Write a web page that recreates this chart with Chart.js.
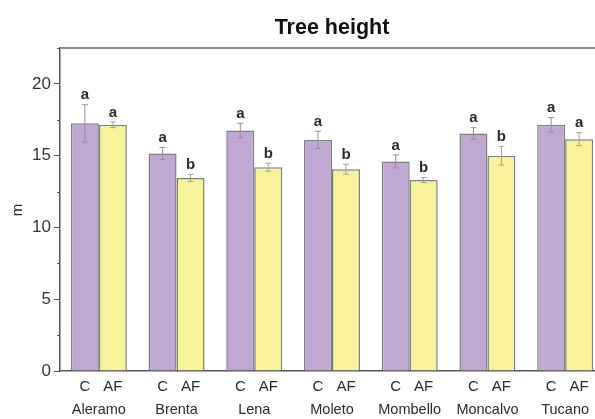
<!DOCTYPE html>
<html>
<head>
<meta charset="utf-8">
<script src="https://cdn.jsdelivr.net/npm/chart.js@4.4.1/dist/chart.umd.min.js"></script>
<style>
  html, body { margin: 0; padding: 0; background: #fff; overflow: hidden; width: 595px; height: 419px; }
  canvas { display: block; }
</style>
</head>
<body>
<canvas id="c" width="610" height="419"></canvas>
<script>
// Tree height per site, control (C) vs agroforestry (AF)
const sites = ['Aleramo', 'Brenta', 'Lena', 'Moleto', 'Mombello', 'Moncalvo', 'Tucano'];
const treatments = ['C', 'AF'];
const heightC  = [17.25, 15.15, 16.75, 16.1, 14.6, 16.55, 17.15];
const heightAF = [17.15, 13.45, 14.2, 14.05, 13.3, 15.0, 16.15];
const errC  = [1.3, 0.42, 0.5, 0.6, 0.45, 0.4, 0.5];
const errAF = [0.2, 0.25, 0.28, 0.35, 0.18, 0.65, 0.45];
const letterC  = ['a', 'a', 'a', 'a', 'a', 'a', 'a'];
const letterAF = ['a', 'b', 'b', 'b', 'b', 'b', 'a'];
const yTicks = [0, 5, 10, 15, 20];
const yMinorTicks = [2.5, 7.5, 12.5, 17.5, 22.5];

const FONT = 'Liberation Sans, Arial, sans-serif';
const errors = [errC, errAF];
const letters = [letterC, letterAF];

const decorations = {
  id: 'decorations',
  afterDatasetsDraw(chart) {
    const { ctx, chartArea, scales } = chart;
    const y = scales.y;
    ctx.save();

    // error bars and significance letters
    chart.data.datasets.forEach((ds, di) => {
      const meta = chart.getDatasetMeta(di);
      meta.data.forEach((bar, i) => {
        const v = ds.data[i];
        const e = errors[di][i];
        const yTop = y.getPixelForValue(v + e);
        const yBot = y.getPixelForValue(v - e);
        ctx.strokeStyle = di === 0 ? '#9a8aa6' : '#a5a58e';
        ctx.lineWidth = 1;
        ctx.beginPath();
        ctx.moveTo(bar.x, yTop); ctx.lineTo(bar.x, yBot);
        ctx.moveTo(bar.x - 3, yTop); ctx.lineTo(bar.x + 3, yTop);
        ctx.moveTo(bar.x - 3, yBot); ctx.lineTo(bar.x + 3, yBot);
        ctx.stroke();

        ctx.fillStyle = '#2b2b2b';
        ctx.font = 'bold 15px ' + FONT;
        ctx.textAlign = 'center';
        ctx.textBaseline = 'bottom';
        ctx.fillText(letters[di][i], bar.x, yTop - 2);

        // treatment label under each bar
        ctx.font = '15px ' + FONT;
        ctx.textBaseline = 'middle';
        ctx.fillStyle = '#2b2b2b';
        ctx.fillText(treatments[di], bar.x, chartArea.bottom + 16);
      });
    });

    // site names centred under each group
    ctx.font = '14.5px ' + FONT;
    ctx.fillStyle = '#2b2b2b';
    ctx.textAlign = 'center';
    ctx.textBaseline = 'middle';
    sites.forEach((s, i) => {
      ctx.fillText(s, scales.x.getPixelForValue(i), chartArea.bottom + 39);
    });

    // minor ticks on the y axis
    ctx.strokeStyle = '#555';
    ctx.lineWidth = 1;
    yMinorTicks.forEach(v => {
      const py = Math.round(y.getPixelForValue(v)) + 0.5;
      ctx.beginPath();
      ctx.moveTo(chartArea.left - 3, py); ctx.lineTo(chartArea.left, py);
      ctx.stroke();
    });

    // top frame line
    ctx.strokeStyle = '#8a8a8a';
    ctx.lineWidth = 2;
    ctx.beginPath();
    ctx.moveTo(chartArea.left, chartArea.top);
    ctx.lineTo(chart.width, chartArea.top);
    ctx.stroke();

    // title
    ctx.fillStyle = '#111';
    ctx.font = 'bold 21.5px ' + FONT;
    ctx.textAlign = 'center';
    ctx.textBaseline = 'middle';
    ctx.fillText('Tree height', (chartArea.left + chartArea.right) / 2, 28);

    // y axis title
    ctx.save();
    ctx.translate(18, 210);
    ctx.rotate(-Math.PI / 2);
    ctx.font = '15px ' + FONT;
    ctx.fillStyle = '#2b2b2b';
    ctx.fillText('m', 0, 0);
    ctx.restore();

    ctx.restore();
  }
};

new Chart(document.getElementById('c'), {
  type: 'bar',
  data: {
    labels: sites,
    datasets: [
      { label: 'C', data: heightC, backgroundColor: '#c1a8d3', borderColor: '#7d7d7d', borderWidth: 1.5 },
      { label: 'AF', data: heightAF, backgroundColor: '#f8f29c', borderColor: '#7d7d7d', borderWidth: 1.5 }
    ]
  },
  options: {
    responsive: false,
    animation: false,
    devicePixelRatio: 1,
    layout: { padding: { left: 0, right: 6, top: 48, bottom: 0 } },
    plugins: { legend: { display: false }, tooltip: { enabled: false }, title: { display: false } },
    datasets: { bar: { categoryPercentage: 0.72, barPercentage: 1.0 } },
    scales: {
      x: {
        offset: true,
        grid: { display: false },
        border: { display: true, color: '#555', width: 1.5 },
        ticks: { display: false },
        afterFit(scale) { scale.height = 48; }
      },
      y: {
        min: 0,
        max: 22.5,
        afterBuildTicks(scale) { scale.ticks = yTicks.map(v => ({ value: v })); },
        ticks: { color: '#333', font: { family: FONT, size: 17 }, padding: 3 },
        grid: { drawOnChartArea: false, drawTicks: true, tickLength: 6, color: '#555' },
        border: { display: true, color: '#555', width: 1.5 },
        afterFit(scale) { scale.width = 60; }
      }
    }
  },
  plugins: [decorations]
});
</script>
</body>
</html>
